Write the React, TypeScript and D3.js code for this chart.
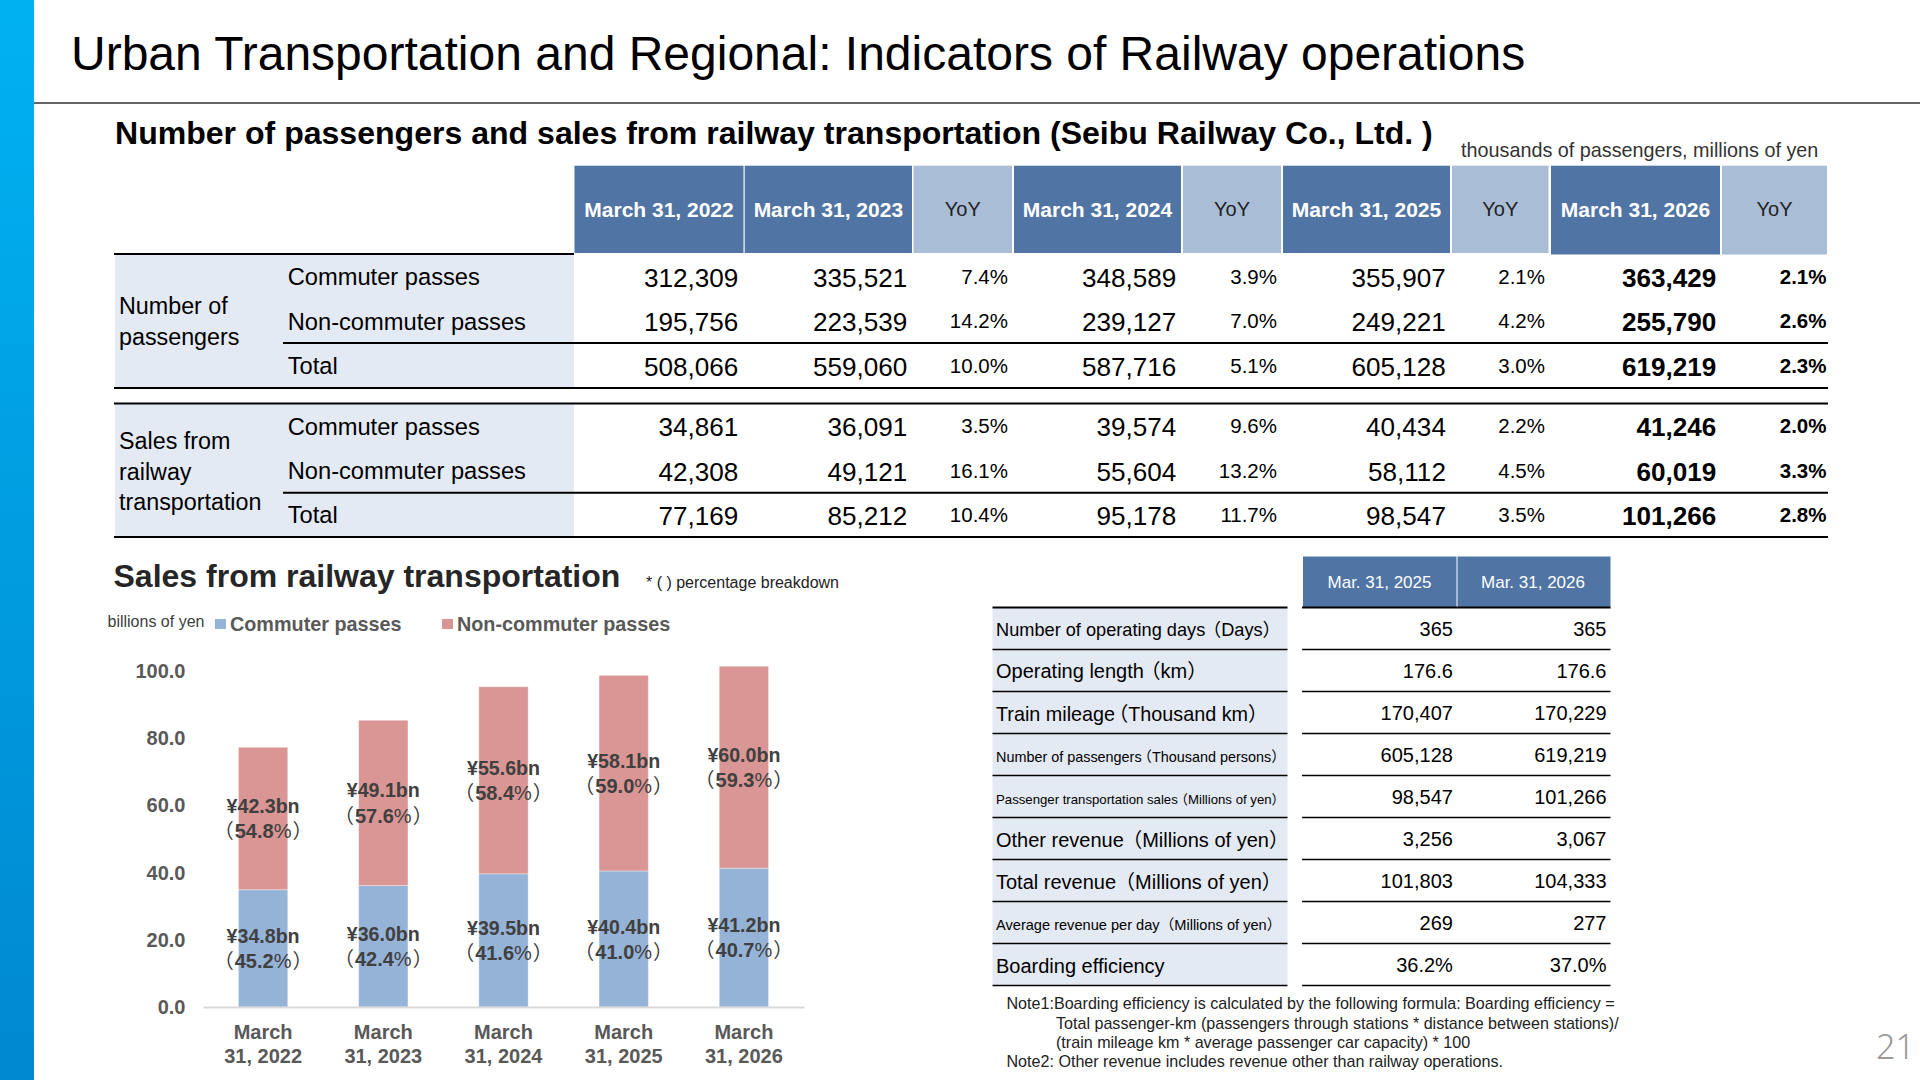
import React, { useEffect, useRef } from "react";
import * as d3 from "d3";

const FONT = '"Liberation Sans", "Noto Sans CJK JP", sans-serif';

const pageTitle = "Urban Transportation and Regional: Indicators of Railway operations";
const tableTitle = "Number of passengers and sales from railway transportation (Seibu Railway Co., Ltd. )";
const unitNote = "thousands of passengers, millions of yen";

const years = ["March 31, 2022", "March 31, 2023", "March 31, 2024", "March 31, 2025", "March 31, 2026"];
const rowNames = ["Commuter passes", "Non-commuter passes", "Total"];

const paxCommuter = [312309, 335521, 348589, 355907, 363429];
const paxNonCommuter = [195756, 223539, 239127, 249221, 255790];
const paxTotal = [508066, 559060, 587716, 605128, 619219];
const paxCommuterYoy = [7.4, 3.9, 2.1, 2.1];
const paxNonCommuterYoy = [14.2, 7.0, 4.2, 2.6];
const paxTotalYoy = [10.0, 5.1, 3.0, 2.3];

const salesCommuter = [34861, 36091, 39574, 40434, 41246];
const salesNonCommuter = [42308, 49121, 55604, 58112, 60019];
const salesTotal = [77169, 85212, 95178, 98547, 101266];
const salesCommuterYoy = [3.5, 9.6, 2.2, 2.0];
const salesNonCommuterYoy = [16.1, 13.2, 4.5, 3.3];
const salesTotalYoy = [10.4, 11.7, 3.5, 2.8];

const commuterBn = [34.8, 36.0, 39.5, 40.4, 41.2];
const commuterPct = [45.2, 42.4, 41.6, 41.0, 40.7];
const nonCommuterBn = [42.3, 49.1, 55.6, 58.1, 60.0];
const nonCommuterPct = [54.8, 57.6, 58.4, 59.0, 59.3];
const yTicks = [0, 20, 40, 60, 80, 100];

const statHeaders = ["Mar. 31, 2025", "Mar. 31, 2026"];
const statNames = [
  "Number of operating days",
  "Operating length",
  "Train mileage",
  "Number of passengers",
  "Passenger transportation sales",
  "Other revenue",
  "Total revenue",
  "Average revenue per day",
  "Boarding efficiency",
];
const statUnits = ["Days", "km", "Thousand km", "Thousand persons", "Millions of yen", "Millions of yen", "Millions of yen", "Millions of yen", ""];
const stat2025 = ["365", "176.6", "170,407", "605,128", "98,547", "3,256", "101,803", "269", "36.2%"];
const stat2026 = ["365", "176.6", "170,229", "619,219", "101,266", "3,067", "104,333", "277", "37.0%"];

const noteLines = [
  "Note1:Boarding efficiency is calculated by the following formula: Boarding efficiency =",
  "Total passenger-km (passengers through stations * distance between stations)/",
  "(train mileage km * average passenger car capacity) * 100",
  "Note2: Other revenue includes revenue other than railway operations.",
];

// layout of the small table: label size, label nudge, and how far the opening bracket is pulled in
const statSizes = [18.2, 20, 19.8, 14.4, 13.2, 20, 20, 14.6, 20];
const statNudge = [0.7, 0.7, 1, 2, 2.5, 1, 1, 2, 1];
const statParenDx = [-2.3, -3.3, -6.7, -4, -3, -1.7, -1, 0, 0];
const noteX = [1006.5, 1056, 1056, 1006.5];
const noteY = [1003.7, 1023.3, 1042.6, 1061.5];

// header cells of the big table, left/right edges
const headCells = [
  { x0: 574.5, x1: 743.5, label: years[0], dark: true },
  { x0: 744.7, x1: 912, label: years[1], dark: true },
  { x0: 913.5, x1: 1012, label: "YoY", dark: false },
  { x0: 1014, x1: 1181, label: years[2], dark: true },
  { x0: 1183, x1: 1281, label: "YoY", dark: false },
  { x0: 1283, x1: 1450, label: years[3], dark: true },
  { x0: 1452, x1: 1548.5, label: "YoY", dark: false },
  { x0: 1551, x1: 1720, label: years[4], dark: true },
  { x0: 1722, x1: 1827, label: "YoY", dark: false },
];
const valueRight = [738.3, 907.3, 1176.3, 1445.9, 1716.3];
const yoyRight = [1008, 1277, 1545, 1826.5];

const fmtInt = d3.format(",");
const fmtPct = (v: number) => `${v.toFixed(1)}%`;

const DARK_HEAD = "#5074a3";
const LIGHT_HEAD = "#a9bdd7";
const PANEL = "#e4eaf3";
const BLUE = "#95b3d7";
const RED = "#d99694";

function Txt({ x, y, size, bold, anchor, fill, children }: any) {
  return (
    <text
      x={x}
      y={y}
      dy="0.36em"
      fontSize={size}
      fontWeight={bold ? 700 : 400}
      textAnchor={anchor || "start"}
      fill={fill || "#000"}
      fontFamily={FONT}
    >
      {children}
    </text>
  );
}

function TableBlock({ top, bottom, values, yoys }: { top: number; bottom: number; values: number[][]; yoys: number[][] }) {
  const rowY = d3.scaleBand<number>().domain([0, 1, 2]).range([top, bottom]);
  const cy = (r: number) => (rowY(r) as number) + rowY.bandwidth() / 2 + 1;
  return (
    <g>
      <rect x={115} y={top} width={459} height={bottom - top} fill={PANEL} />
      {rowNames.map((name, r) => (
        <g key={name}>
          <Txt x={287.7} y={cy(r) - 0.5} size={23.7}>{name}</Txt>
          {values[r].map((v, c) => (
            <Txt key={c} x={valueRight[c]} y={cy(r)} size={26.1} anchor="end" bold={c === 4}>{fmtInt(v)}</Txt>
          ))}
          {yoys[r].map((v, c) => (
            <Txt key={c} x={yoyRight[c]} y={cy(r) - 1} size={20.5} anchor="end" bold={c === 3}>{fmtPct(v)}</Txt>
          ))}
        </g>
      ))}
    </g>
  );
}

function StackedChart() {
  const yRef = useRef<SVGGElement>(null);
  const xRef = useRef<SVGGElement>(null);

  const rows = years.map((year, i) => ({
    year,
    commuter: salesCommuter[i] / 1000,
    nonCommuter: salesNonCommuter[i] / 1000,
  }));
  const x = d3.scaleBand<string>().domain(years).range([203, 804]).paddingInner(0.59).paddingOuter(0.295);
  const y = d3.scaleLinear().domain([0, 100]).range([1007, 670.5]);
  const stacked = d3.stack<any>().keys(["commuter", "nonCommuter"])(rows);
  const bn = [commuterBn, nonCommuterBn];
  const pct = [commuterPct, nonCommuterPct];

  useEffect(() => {
    if (!yRef.current || !xRef.current) return;
    const yAxis = d3.select(yRef.current);
    yAxis.selectAll("*").remove();
    yAxis.call(d3.axisLeft(y).tickValues(yTicks).tickSize(0).tickPadding(17.5).tickFormat(d3.format(".1f") as any));
    yAxis.select(".domain").remove();
    yAxis.selectAll("text")
      .attr("font-size", 20)
      .attr("font-weight", 700)
      .attr("font-family", FONT)
      .attr("fill", "#595959")
      .attr("dy", "0.33em");

    const xAxis = d3.select(xRef.current);
    xAxis.selectAll("*").remove();
    xAxis.call(d3.axisBottom(x).tickSize(0).tickPadding(0));
    xAxis.select(".domain").attr("stroke", "#d9d9d9").attr("stroke-width", 2);
    xAxis.selectAll<SVGTextElement, string>("text").each(function (d) {
      const m = d.match(/^(\w+) (.*)$/) as RegExpMatchArray;
      const t = d3.select(this)
        .text(null)
        .attr("dy", null)
        .attr("font-size", 20)
        .attr("font-weight", 700)
        .attr("font-family", FONT)
        .attr("fill", "#595959");
      t.append("tspan").attr("x", 0).attr("y", 32).text(m[1]);
      t.append("tspan").attr("x", 0).attr("y", 55.5).text(m[2]);
    });
  }, []);

  return (
    <g>
      {stacked.map((layer, s) => (
        <g key={layer.key} fill={s === 0 ? BLUE : RED} stroke="#fff" strokeOpacity={0.35}>
          {layer.map((d, i) => (
            <rect key={i} x={x(years[i])} width={x.bandwidth()} y={y(d[1])} height={y(d[0]) - y(d[1])} />
          ))}
        </g>
      ))}
      <g ref={yRef} transform="translate(203,0)" />
      <g ref={xRef} transform="translate(0,1007)" />
      {stacked.map((layer, s) =>
        layer.map((d, i) => {
          const cx = (x(years[i]) as number) + x.bandwidth() / 2;
          const cy = y((d[0] + d[1]) / 2);
          return (
            <g key={`${s}-${i}`}>
              <Txt x={cx} y={cy - 12.5} size={19.6} bold anchor="middle" fill="#404040">{`¥${bn[s][i].toFixed(1)}bn`}</Txt>
              <Txt x={cx} y={cy + 12.5} size={20} bold anchor="middle" fill="#404040">
                <tspan fontWeight={400}>（</tspan>
                <tspan dx={1}>{pct[s][i].toFixed(1)}</tspan>
                <tspan fontWeight={400}>%</tspan>
                <tspan dx={1} fontWeight={400}>）</tspan>
              </Txt>
            </g>
          );
        })
      )}
    </g>
  );
}

function StatTable() {
  const rowY = d3.scaleBand<number>().domain(d3.range(statNames.length)).range([607.5, 985.5]);
  const edges = [...statNames.map((_, i) => rowY(i) as number), 985.5];
  const colRight = [1452.9, 1606.5];
  return (
    <g>
      <rect x={1303} y={556.5} width={153.5} height={50.5} fill={DARK_HEAD} />
      <rect x={1457.5} y={556.5} width={153} height={50.5} fill={DARK_HEAD} />
      {statHeaders.map((h, i) => (
        <Txt key={h} x={i === 0 ? 1379.5 : 1533} y={581.5} size={17} anchor="middle" fill="#fff">{h}</Txt>
      ))}
      <rect x={992.5} y={607.5} width={295} height={378} fill={PANEL} />
      {edges.map((e, i) => (
        <g key={i} stroke="#000" strokeWidth={i === 0 ? 2 : 1.5}>
          <line x1={992.5} x2={1287.5} y1={e} y2={e} />
          <line x1={1302} x2={1610.5} y1={e} y2={e} />
        </g>
      ))}
      {statNames.map((name, i) => {
        const cy = (rowY(i) as number) + rowY.bandwidth() / 2;
        return (
          <g key={name}>
            <Txt x={996} y={cy + statNudge[i]} size={statSizes[i]}>
              {name}
              {statUnits[i] && <tspan dx={statParenDx[i]}>（{statUnits[i]}）</tspan>}
            </Txt>
            <Txt x={colRight[0]} y={cy + 0.7} size={20} anchor="end">{stat2025[i]}</Txt>
            <Txt x={colRight[1]} y={cy + 0.7} size={20} anchor="end">{stat2026[i]}</Txt>
          </g>
        );
      })}
    </g>
  );
}

export default function App() {
  useEffect(() => {
    document.body.style.margin = "0";
  }, []);

  return (
    <svg width={1920} height={1080} viewBox="0 0 1920 1080" style={{ display: "block", background: "#fff" }}>
      <defs>
        <linearGradient id="side" x1="0" y1="0" x2="0" y2="1">
          <stop offset="0%" stopColor="#00b2f2" />
          <stop offset="100%" stopColor="#0088cf" />
        </linearGradient>
      </defs>
      <rect x={0} y={0} width={34} height={1080} fill="url(#side)" />
      <line x1={34} x2={1920} y1={103} y2={103} stroke="#333" strokeWidth={1.5} />
      <text x={71} y={70} fontSize={48} fontFamily={FONT} fill="#000">{pageTitle}</text>
      <text x={115} y={144} fontSize={32.05} fontWeight={700} fontFamily={FONT} fill="#000">{tableTitle}</text>
      <Txt x={1461} y={150} size={19.8} fill="#333">{unitNote}</Txt>

      {headCells.map((c, i) => (
        <g key={i}>
          <rect x={c.x0} y={165.7} width={c.x1 - c.x0} height={(i >= 7 ? 254.5 : 253) - 165.7} fill={c.dark ? DARK_HEAD : LIGHT_HEAD} />
          <Txt x={(c.x0 + c.x1) / 2} y={209} size={c.dark ? 21 : 20} bold={c.dark} anchor="middle" fill={c.dark ? "#fff" : "#222"}>{c.label}</Txt>
        </g>
      ))}

      <TableBlock top={254} bottom={387.5} values={[paxCommuter, paxNonCommuter, paxTotal]} yoys={[paxCommuterYoy, paxNonCommuterYoy, paxTotalYoy]} />
      <TableBlock top={404} bottom={536.5} values={[salesCommuter, salesNonCommuter, salesTotal]} yoys={[salesCommuterYoy, salesNonCommuterYoy, salesTotalYoy]} />

      <Txt x={119} y={306} size={23.3}>Number of</Txt>
      <Txt x={119} y={336.5} size={23.3}>passengers</Txt>
      <Txt x={119} y={441} size={23.3}>Sales from</Txt>
      <Txt x={119} y={471.5} size={23.3}>railway</Txt>
      <Txt x={119} y={502} size={23.3}>transportation</Txt>

      <g stroke="#000" strokeWidth={2}>
        <line x1={114} x2={574} y1={254} y2={254} />
        <line x1={283} x2={1828} y1={343} y2={343} />
        <line x1={114} x2={1828} y1={388} y2={388} />
        <line x1={114} x2={1828} y1={403.5} y2={403.5} />
        <line x1={283} x2={1828} y1={492.7} y2={492.7} />
        <line x1={114} x2={1828} y1={537} y2={537} />
      </g>

      <text x={113.5} y={587} fontSize={32} fontWeight={700} fontFamily={FONT} fill="#262626">Sales from railway transportation</text>
      <Txt x={646} y={582.5} size={16} fill="#222">* ( ) percentage breakdown</Txt>
      <Txt x={107.5} y={621.5} size={16} fill="#404040">billions of yen</Txt>
      <rect x={215} y={619} width={11} height={10} fill={BLUE} />
      <Txt x={230} y={624} size={19.8} bold fill="#595959">Commuter passes</Txt>
      <rect x={442} y={619} width={11} height={10} fill={RED} />
      <Txt x={457} y={624} size={19.8} bold fill="#595959">Non-commuter passes</Txt>
      <StackedChart />

      <StatTable />
      {noteLines.map((line, i) => (
        <Txt key={i} x={noteX[i]} y={noteY[i]} size={16.1} fill="#222">{line}</Txt>
      ))}
      <text x={1876} y={1059} fontSize={34} fontFamily='"Noto Sans", sans-serif' fontWeight={300} fill="#9a9a9a">21</text>
    </svg>
  );
}
